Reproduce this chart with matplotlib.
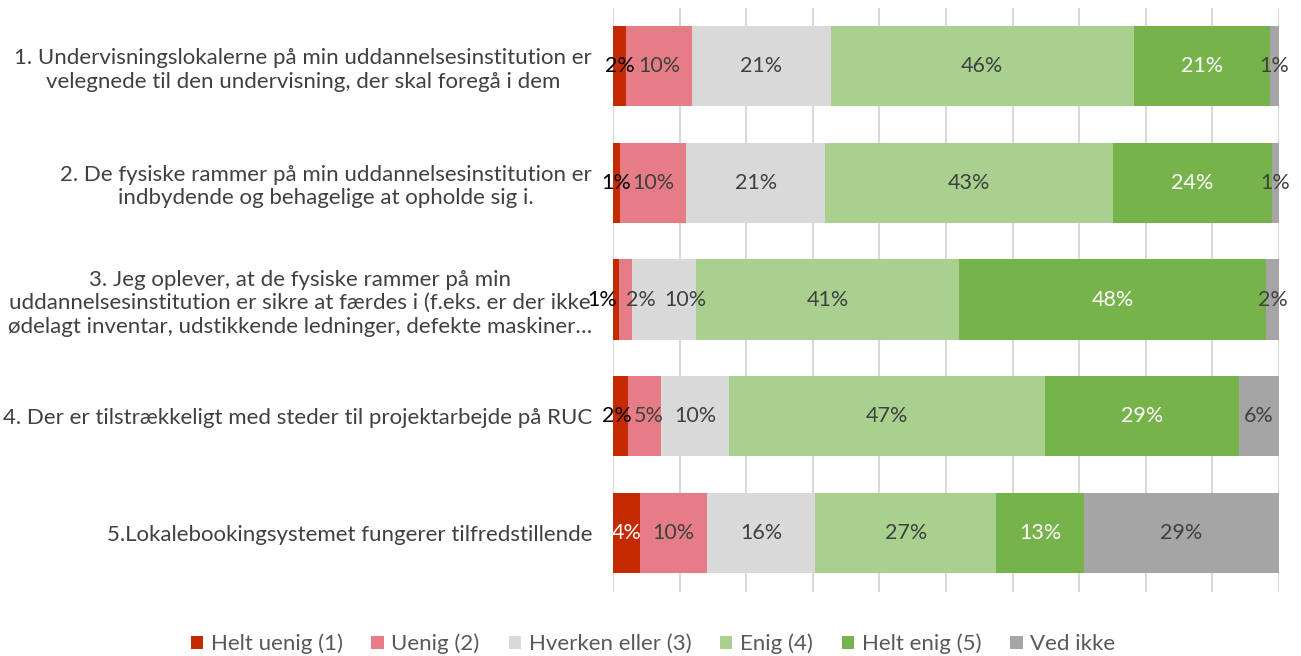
import numpy as np
import matplotlib
matplotlib.use('Agg')
import matplotlib.pyplot as plt
from matplotlib.patches import Patch

plt.rcParams['font.family'] = ['Lato', 'DejaVu Sans']

questions = [
    '1. Undervisningslokalerne på min uddannelsesinstitution er\nvelegnede til den undervisning, der skal foregå i dem',
    '2. De fysiske rammer på min uddannelsesinstitution er\nindbydende og behagelige at opholde sig i.',
    '3. Jeg oplever, at de fysiske rammer på min\nuddannelsesinstitution er sikre at færdes i (f.eks. er der ikke\nødelagt inventar, udstikkende ledninger, defekte maskiner…',
    '4. Der er tilstrækkeligt med steder til projektarbejde på RUC',
    '5.Lokalebookingsystemet fungerer tilfredstillende',
]
answers = ['Helt uenig (1)', 'Uenig (2)', 'Hverken eller (3)', 'Enig (4)', 'Helt enig (5)', 'Ved ikke']
colors = ['#C52A00', '#E67C85', '#D9D9D9', '#A9D08E', '#77B34B', '#A5A5A5']
label_colors = [None, '#404040', '#404040', '#404040', '#FFFFFF', '#404040']

# procent pr. spørgsmål (rækker) og svar (kolonner)
helt_uenig = [2.0, 1.0, 1.0, 2.2, 4.0]
uenig = [10.0, 10.0, 2.0, 5.0, 10.0]
hverken = [21.0, 20.9, 10.0, 10.0, 16.0]
enig = [46.0, 43.1, 41.0, 47.0, 27.0]
helt_enig = [20.6, 23.9, 48.0, 28.8, 13.0]
ved_ikke = [1.4, 1.1, 2.0, 6.0, 29.0]
red_label = ['#000000', '#000000', '#000000', '#000000', '#FFFFFF']

data = np.array([helt_uenig, uenig, hverken, enig, helt_enig, ved_ikke]).T
share = data / data.sum(axis=1, keepdims=True) * 100

# små forskydninger af etiketter i smalle felter, så de ikke overlapper
nudge = {(2, 0): -2.1, (2, 1): 2.3, (2, 2): 3.2, (3, 0): -0.5, (3, 1): 0.6}

fig = plt.figure(figsize=(13.01, 6.56), dpi=100)
ax = fig.add_axes([613 / 1301, 1 - 591.5 / 656, 666 / 1301, 584 / 656])

y = np.arange(len(questions))
left = np.zeros(len(questions))
for j in range(len(answers)):
    bars = ax.barh(y, share[:, j], left=left, height=0.685, color=colors[j], zorder=2)
    for i, b in enumerate(bars):
        c = red_label[i] if j == 0 else label_colors[j]
        x = left[i] + share[i, j] / 2 + nudge.get((i, j), 0)
        ax.text(x, y[i], f'{data[i, j]:.0f}%',
                ha='center', va='center', fontsize=15.5, color=c, zorder=3)
    left += share[:, j]

ax.set_xlim(0, 100)
ax.set_ylim(len(questions) - 0.5, -0.5)
ax.set_xticks(np.arange(0, 101, 10))
ax.set_xticklabels([])
ax.xaxis.grid(True, color='#D9D9D9', linewidth=1.5, zorder=0)
ax.set_axisbelow(True)
ax.tick_params(length=0)
ax.set_yticks(y)
ax.set_yticklabels(questions, fontsize=16, color='#404040', linespacing=1.23,
                   multialignment='center')
ax.tick_params(axis='y', pad=15)
for s in ax.spines.values():
    s.set_visible(False)

handles = [Patch(facecolor=c, label=a) for a, c in zip(answers, colors)]
fig.legend(handles=handles, loc='center', bbox_to_anchor=(653 / 1301, 1 - 644 / 656),
           ncol=6, frameon=False, fontsize=16, handlelength=0.55, handleheight=0.55,
           handletextpad=0.35, columnspacing=1.3, labelcolor='#595959')

fig.savefig('out.png', dpi=100)
